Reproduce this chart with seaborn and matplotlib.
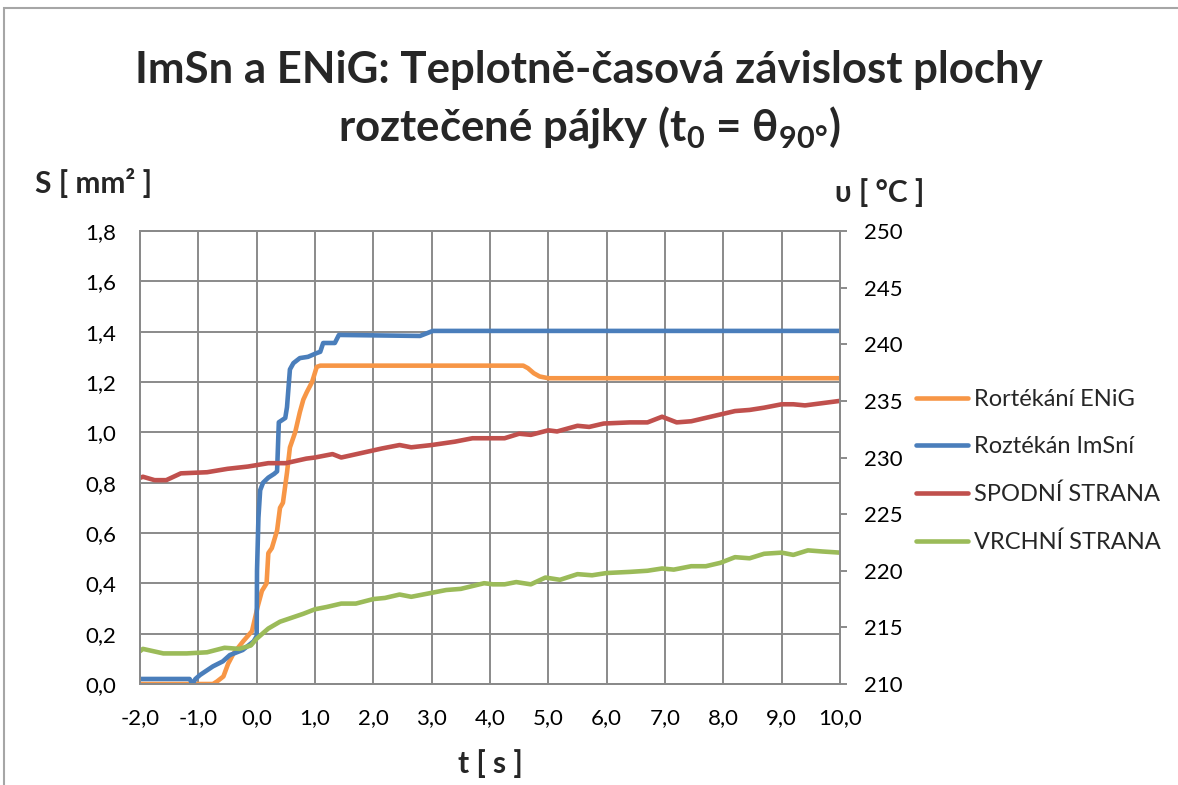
import matplotlib
matplotlib.use("Agg")
import numpy as np
import pandas as pd
import seaborn as sns
import matplotlib.pyplot as plt
from matplotlib.ticker import FuncFormatter, MultipleLocator
from matplotlib.patches import Rectangle
from matplotlib.lines import Line2D

# Roztékání ENiG [mm2]
enig_t = [-2.0, -0.75, -0.68, -0.57, -0.49, -0.4, -0.23, -0.08, 0.02, 0.09, 0.17, 0.2, 0.26, 0.35, 0.4, 0.45,
          0.52, 0.57, 0.66, 0.74, 0.8, 0.86, 0.95, 1.03, 1.09, 4.57, 4.65, 4.75, 4.85, 5.0, 10.0]
enig_s = [0.0, 0.0, 0.01, 0.03, 0.08, 0.12, 0.17, 0.21, 0.31, 0.37, 0.40, 0.52, 0.54, 0.61, 0.70, 0.72,
          0.84, 0.94, 1.0, 1.08, 1.13, 1.16, 1.20, 1.26, 1.265, 1.265, 1.255, 1.235, 1.222, 1.215, 1.215]

# Roztékání ImSn [mm2]
imsn_t = [-2.0, -1.15, -1.1, -1.05, -0.97, -0.75, -0.58, -0.46, -0.24, -0.05, 0.0, 0.006, 0.03, 0.06, 0.11,
          0.2, 0.3, 0.35, 0.38, 0.49, 0.52, 0.57, 0.63, 0.74, 0.88, 1.03, 1.09, 1.14, 1.34, 1.41, 2.8, 3.02, 10.0]
imsn_s = [0.02, 0.02, 0.0, 0.02, 0.036, 0.07, 0.09, 0.115, 0.135, 0.17, 0.19, 0.45, 0.66, 0.77, 0.80,
          0.82, 0.835, 0.845, 1.04, 1.057, 1.1, 1.25, 1.275, 1.295, 1.30, 1.315, 1.32, 1.355, 1.355, 1.387,
          1.383, 1.403, 1.403]

# teplota spodní strany [°C]
spodni_t = [-2.0, -1.95, -1.75, -1.55, -1.3, -0.85, -0.5, -0.15, 0.2, 0.5, 0.85, 1.0, 1.3, 1.45, 1.8, 2.15,
            2.45, 2.65, 3.0, 3.4, 3.7, 4.0, 4.25, 4.5, 4.7, 5.0, 5.15, 5.5, 5.7, 5.95, 6.4, 6.7, 6.95, 7.2,
            7.45, 7.95, 8.2, 8.45, 8.7, 9.0, 9.2, 9.4, 9.7, 10.0]
spodni_T = [228.2, 228.3, 228.0, 228.0, 228.6, 228.7, 229.0, 229.2, 229.5, 229.5, 229.9, 230.0, 230.3, 230.0,
            230.4, 230.8, 231.1, 230.9, 231.1, 231.4, 231.7, 231.7, 231.7, 232.1, 232.0, 232.4, 232.3, 232.8,
            232.7, 233.0, 233.1, 233.1, 233.6, 233.1, 233.2, 233.8, 234.1, 234.2, 234.4, 234.7, 234.7, 234.6,
            234.8, 235.0]

# teplota vrchní strany [°C]
vrchni_t = [-2.0, -1.95, -1.6, -1.2, -0.85, -0.55, -0.3, -0.1, 0.0, 0.2, 0.4, 0.8, 1.0, 1.2, 1.45, 1.7, 2.0,
            2.2, 2.45, 2.65, 2.95, 3.25, 3.5, 3.9, 4.05, 4.25, 4.45, 4.7, 4.95, 5.2, 5.5, 5.75, 6.0, 6.4, 6.7,
            6.95, 7.15, 7.45, 7.7, 7.95, 8.2, 8.45, 8.7, 9.0, 9.2, 9.45, 9.7, 10.0]
vrchni_T = [212.9, 213.1, 212.7, 212.7, 212.8, 213.2, 213.1, 213.4, 214.0, 214.9, 215.5, 216.2, 216.6, 216.8,
            217.1, 217.1, 217.5, 217.6, 217.9, 217.7, 218.0, 218.3, 218.4, 218.9, 218.8, 218.8, 219.0, 218.8,
            219.4, 219.2, 219.7, 219.6, 219.8, 219.9, 220.0, 220.2, 220.1, 220.4, 220.4, 220.7, 221.2, 221.1,
            221.5, 221.6, 221.4, 221.8, 221.7, 221.6]

labels = ["Rortékání ENiG", "Roztékán ImSní", "SPODNÍ STRANA", "VRCHNÍ STRANA"]
colors = ["#F79646", "#4A7EBB", "#C0504D", "#9BBB59"]

sns.set_style("white")
plt.rcParams["font.family"] = ["Lato", "DejaVu Sans"]
plt.rcParams["mathtext.fontset"] = "custom"
plt.rcParams["mathtext.rm"] = "Lato"
plt.rcParams["mathtext.bf"] = "Lato:bold"

grid_c = "#8a8a8a"
W, H = 1178, 785
fig = plt.figure(figsize=(W / 100, H / 100), dpi=100)
ax = fig.add_axes([140 / W, 1 - 684 / H, 700 / W, 453 / H])
ax2 = ax.twinx()

df_enig = pd.DataFrame({"t": enig_t, "S": enig_s})
df_imsn = pd.DataFrame({"t": imsn_t, "S": imsn_s})
df_sp = pd.DataFrame({"t": spodni_t, "T": spodni_T})
df_vr = pd.DataFrame({"t": vrchni_t, "T": vrchni_T})

lw = 3.3
sns.lineplot(data=df_enig, x="t", y="S", ax=ax, color=colors[0], lw=lw, estimator=None, sort=False)
sns.lineplot(data=df_imsn, x="t", y="S", ax=ax, color=colors[1], lw=lw, estimator=None, sort=False)
sns.lineplot(data=df_sp, x="t", y="T", ax=ax2, color=colors[2], lw=lw, estimator=None, sort=False)
sns.lineplot(data=df_vr, x="t", y="T", ax=ax2, color=colors[3], lw=lw, estimator=None, sort=False)

ax.set_xlim(-2, 10)
ax.set_ylim(0, 1.8)
ax2.set_ylim(210, 250)
ax.xaxis.set_major_locator(MultipleLocator(1))
ax.yaxis.set_major_locator(MultipleLocator(0.2))
ax2.yaxis.set_major_locator(MultipleLocator(5))
comma = FuncFormatter(lambda v, p: f"{v:.1f}".replace(".", ","))
ax.xaxis.set_major_formatter(comma)
ax.yaxis.set_major_formatter(comma)

ax.grid(True, color=grid_c, lw=1.4)
ax.set_axisbelow(True)
for a in (ax, ax2):
    for s in a.spines.values():
        s.set_color(grid_c)
        s.set_linewidth(1.4)
ax.set_xlabel("")
ax.set_ylabel("")
ax2.set_ylabel("")
ax.tick_params(axis="both", length=0, labelsize=16, colors="black")
ax.tick_params(axis="y", pad=17)
ax.tick_params(axis="x", pad=17)
ax2.tick_params(axis="y", length=5, width=1.4, color=grid_c, labelsize=16, pad=12, labelcolor="black")

# titulek a popisky os
fig.text(0.5, 1 - 83 / H, "ImSn a ENiG: Teplotně-časová závislost plochy",
         ha="center", va="baseline", fontsize=31.5, fontweight="bold")
fig.text(0.5, 1 - 140 / H, r"roztečené pájky (t$_\mathbf{0}$ = θ$_\mathbf{90°}$)",
         ha="center", va="baseline", fontsize=31.5, fontweight="bold")
fig.text(35 / W, 1 - 193 / H, "S [ mm² ]", ha="left", va="baseline", fontsize=21.5, fontweight="bold")
fig.text(835 / W, 1 - 202 / H, "υ [ °C ]", ha="left", va="baseline", fontsize=21.5, fontweight="bold")
fig.text(490 / W, 1 - 773 / H, "t [ s ]", ha="center", va="baseline", fontsize=21.5, fontweight="bold")

handles = [Line2D([], [], color=c, lw=lw, solid_capstyle="round") for c in colors]
fig.legend(handles, labels, loc="center left", bbox_to_anchor=(916 / W, 1 - 471 / H), frameon=False,
           fontsize=17, handlelength=2.2, handletextpad=0.25, labelspacing=1.12, borderpad=0,
           borderaxespad=0)

fig.patches.append(Rectangle((4 / W, -0.05), 1.2, 1.05 - 8 / H, transform=fig.transFigure,
                             fill=False, edgecolor="#a6a6a6", lw=1.5))

fig.savefig("out.png", dpi=100)
